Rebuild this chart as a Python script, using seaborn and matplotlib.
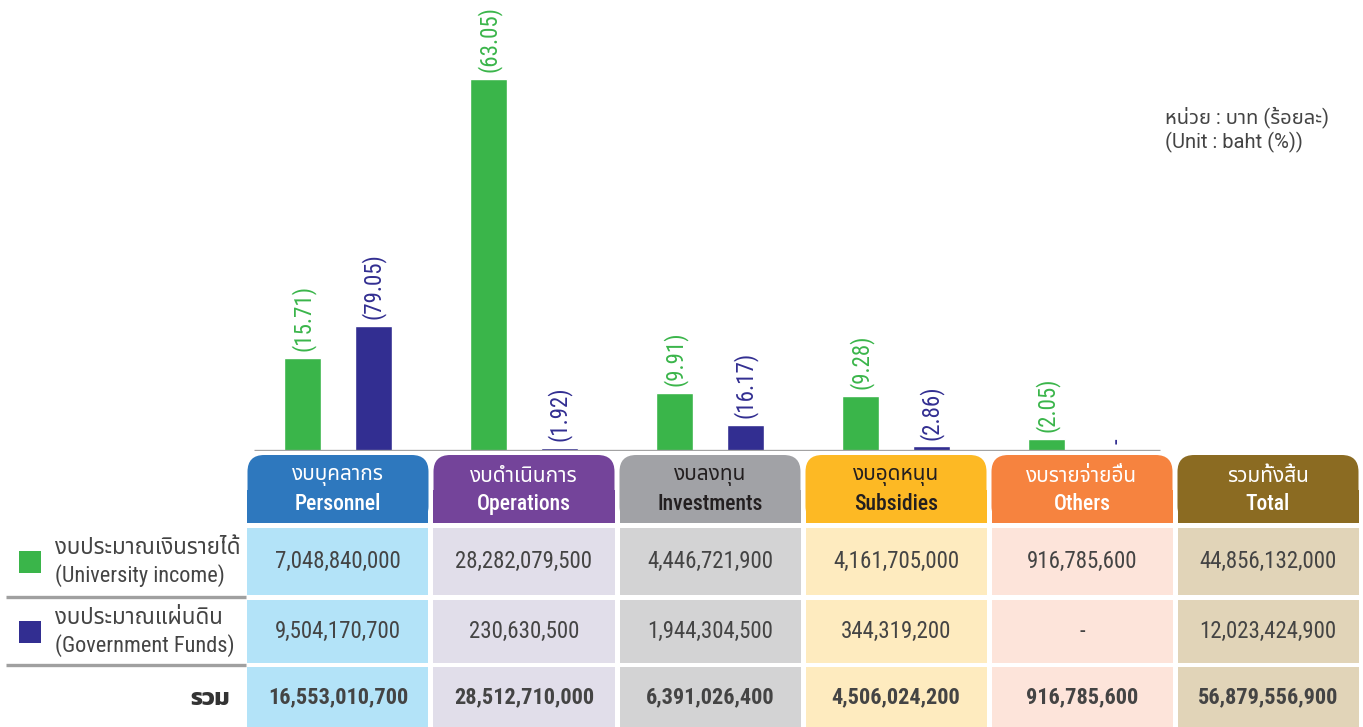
import matplotlib
matplotlib.use("Agg")
import matplotlib.pyplot as plt
from matplotlib import font_manager
from matplotlib.patches import FancyBboxPatch, Rectangle
import seaborn as sns
import pandas as pd

# ── DATA ──────────────────────────────────────────────────────────────────────
categories_th = ["งบบุคลากร", "งบดำเนินการ", "งบลงทุน", "งบอุดหนุน", "งบรายจ่ายอื่น"]
categories_en = ["Personnel", "Operations", "Investments", "Subsidies", "Others"]
univ_income = [7048840000, 28282079500, 4446721900, 4161705000, 916785600]
gov_funds = [9504170700, 230630500, 1944304500, 344319200, 0]
univ_pct = ["(15.71)", "(63.05)", "(9.91)", "(9.28)", "(2.05)"]
gov_pct = ["(79.05)", "(1.92)", "(16.17)", "(2.86)", "-"]
col_totals = [16553010700, 28512710000, 6391026400, 4506024200, 916785600]
univ_total = 44856132000
gov_total = 12023424900
grand_total = 56879556900

# ── FONTS ─────────────────────────────────────────────────────────────────────
sns.set_theme(style="white")
names = {f.name for f in font_manager.fontManager.ttflist}


def first_installed(cands):
    for c in cands:
        if c in names:
            return c
    return "DejaVu Sans"


LATIN = first_installed(["Roboto Condensed", "Archivo Narrow", "PT Sans Narrow"])
THAI = first_installed(["Noto Sans Thai", "Kanit", "Anuphan"])
THAI_BOLD = first_installed(["Kanit", "Noto Sans Thai"])
FAMILY = [LATIN, THAI, "DejaVu Sans"]
UNIT_FAMILY = [first_installed(["Roboto", "Open Sans"]), THAI]
plt.rcParams["font.family"] = FAMILY

GREEN = "#3AB54A"
NAVY = "#322E91"
head_colors = ["#2E78BE", "#74449A", "#A1A2A6", "#FDB924", "#F6833F", "#8B6B22"]
head_text = ["white", "white", "#231F20", "#231F20", "white", "white"]
cell_colors = ["#B3E3F8", "#E1DEEA", "#D3D3D4", "#FEEBBF", "#FDE4DA", "#E1D4B8"]
TXT = "#444444"

W, H = 1363, 727
COL_W, FIRST_C = 186, 338      # pixel width of a category column, centre of first
BASE = 451                     # baseline pixel row

fig = plt.figure(figsize=(W / 100, H / 100), dpi=100)

# ── BARS ──────────────────────────────────────────────────────────────────────
bars = pd.DataFrame({
    "category": categories_en * 2,
    "source": ["univ"] * 5 + ["gov"] * 5,
    "value": [v / 1e9 for v in univ_income + gov_funds],
})
left_px = FIRST_C - COL_W / 2
ax = fig.add_axes([left_px / W, (H - BASE) / H, 6 * COL_W / W, BASE / H])
sns.barplot(data=bars, x="category", y="value", hue="source", order=categories_en,
            palette=[GREEN, NAVY], width=0.76, gap=0.47, legend=False,
            saturation=1, ax=ax)
for cont, labels, col in zip(ax.containers, [univ_pct, gov_pct], [GREEN, NAVY]):
    ax.bar_label(cont, labels=labels, rotation=90, padding=5, color=col, fontsize=16.5)
ax.set_xlim(-0.5, 5.5)
ax.set_ylim(0, 34.3)
ax.hlines(0, -0.45, 4.42, color="#A3A3A3", lw=2.4, zorder=5)
ax.axis("off")

fig.text(1165 / W, 1 - 106 / H, "หน่วย : บาท (ร้อยละ)\n(Unit : baht (%))", ha="left",
         va="top", fontsize=14.5, color="#444444", linespacing=1.25,
         family=UNIT_FAMILY)

# ── TABLE ─────────────────────────────────────────────────────────────────────
tb = fig.add_axes([0, 0, 1, (H - BASE) / H])
tb.set_xlim(-FIRST_C / COL_W, (W - FIRST_C) / COL_W)
tb.set_ylim(H, BASE)
tb.axis("off")


def px(x):
    return (x - FIRST_C) / COL_W


inset = 2.5 / COL_W
rows = [(528, 595), (600, 663), (667, 740)]
head_th = categories_th + ["รวมทั้งสิ้น"]
head_en = categories_en + ["Total"]
col_vals = [
    [f"{v:,}" for v in univ_income] + [f"{univ_total:,}"],
    [f"{v:,}" if v else "-" for v in gov_funds] + [f"{gov_total:,}"],
    [f"{v:,}" for v in col_totals] + [f"{grand_total:,}"],
]
for i in range(6):
    x0, w = i - 0.5 + inset, 1 - 2 * inset
    tb.add_patch(FancyBboxPatch((x0, 455), w, 68, boxstyle="round,pad=0,rounding_size=0.09",
                                mutation_aspect=COL_W, fc=head_colors[i], ec="none"))
    tb.add_patch(Rectangle((x0, 490), w, 33, fc=head_colors[i], ec="none"))
    tb.text(i, 477, head_th[i], ha="center", va="center", fontsize=15,
            color=head_text[i], fontweight="medium")
    tb.text(i, 504, head_en[i], ha="center", va="center", fontsize=15.5,
            color=head_text[i], fontweight="medium")
    for r, (y0, y1) in enumerate(rows):
        tb.add_patch(Rectangle((x0, y0), w, y1 - y0, fc=cell_colors[i], ec="none"))
        yc = (y0 + min(y1, H)) / 2
        tb.text(i, yc, col_vals[r][i], ha="center", va="center",
                fontsize=16 if r == 2 else 16.5, color=TXT,
                fontweight="bold" if r == 2 else "normal")

# row labels on the left
for (y0, y1), col, th, en in zip(rows[:2], [GREEN, NAVY],
                                 ["งบประมาณเงินรายได้", "งบประมาณแผ่นดิน"],
                                 ["(University income)", "(Government Funds)"]):
    yc = (y0 + y1) / 2
    tb.add_patch(Rectangle((px(19), yc - 11), px(41) - px(19), 22, fc=col, ec="none"))
    tb.text(px(55), yc - 13, th, ha="left", va="center", fontsize=16, color=TXT)
    tb.text(px(55), yc + 14, en, ha="left", va="center", fontsize=16, color=TXT)
tb.hlines([597, 665], px(6), px(246), color="#A0A0A0", lw=2.4)
tb.text(px(230), 699, "รวม", ha="right", va="center", fontsize=17, color="#333333",
        fontweight="bold", family=THAI_BOLD)

fig.savefig("out.png", dpi=100)
